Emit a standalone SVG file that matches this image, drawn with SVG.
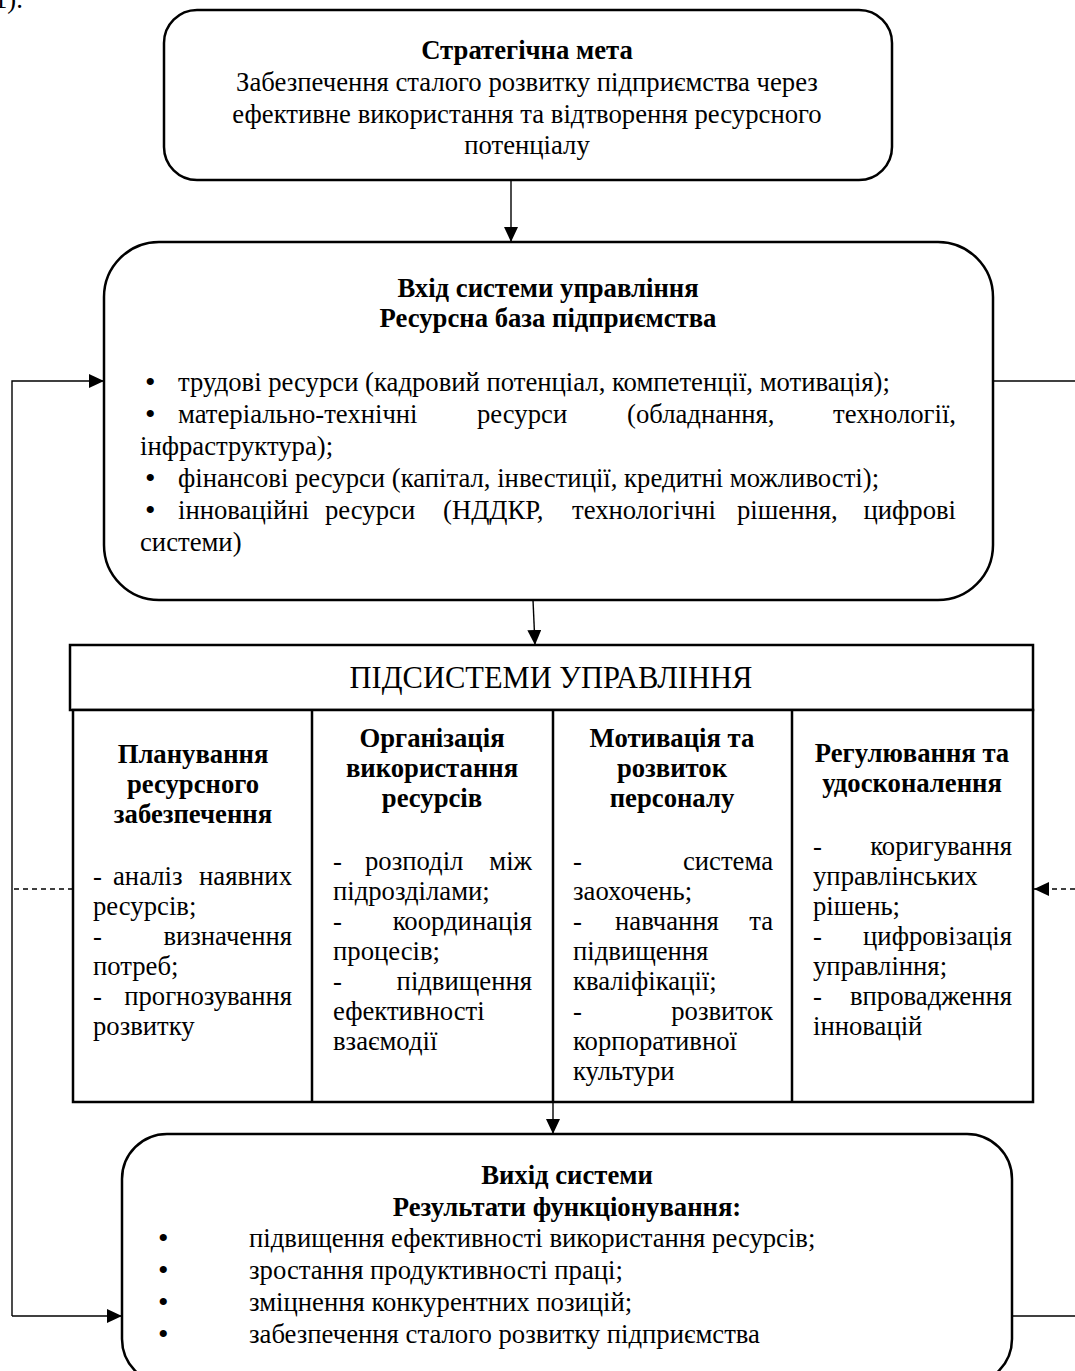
<svg xmlns="http://www.w3.org/2000/svg" width="1075" height="1371" viewBox="0 0 1075 1371">
<defs>
<style>
text{font-family:"Liberation Serif","Times New Roman",serif;font-size:26.7px;fill:#000}
.b{font-weight:bold}
.c{text-anchor:middle}
.e{text-anchor:end}
.bu{font-size:30px}
.box{fill:#fff;stroke:#000;stroke-width:2.5}
.tbl{fill:#fff;stroke:#000;stroke-width:2.5}
.ln{fill:none;stroke:#000;stroke-width:1.4}
.dash{fill:none;stroke:#000;stroke-width:1.4;stroke-dasharray:5 4}
</style>
<marker id="ah" viewBox="0 0 15 14" refX="15" refY="7" markerWidth="15" markerHeight="14" markerUnits="userSpaceOnUse" orient="auto">
<path d="M0,0 L15,7 L0,14 z" fill="#000"/>
</marker>
</defs>
<rect width="1075" height="1371" fill="#fff"/>
<text x="-6" y="8">1).</text>

<g id="connectors">
<path class="ln" d="M511,180 L511,242" marker-end="url(#ah)"/>
<path class="ln" d="M533,600 L535,645" marker-end="url(#ah)"/>
<path class="ln" d="M553,1102 L553,1134" marker-end="url(#ah)"/>
<path class="ln" d="M12,1316 L12,381 L104,381" marker-end="url(#ah)"/>
<path class="ln" d="M12,1316 L122,1316" marker-end="url(#ah)"/>
<path class="dash" d="M73,889 L12,889"/>
<path class="ln" d="M993,381 L1075,381"/>
<path class="dash" d="M1075,889 L1034,889" marker-end="url(#ah)"/>
<path class="ln" d="M1012,1316 L1075,1316"/>
</g>

<g id="goal">
<rect class="box" x="164" y="10" width="728" height="170" rx="33"/>
<text class="b c" x="527" y="59">Стратегічна мета</text>
<text class="c" x="527" y="91">Забезпечення сталого розвитку підприємства через</text>
<text class="c" x="527" y="123">ефективне використання та відтворення ресурсного</text>
<text class="c" x="527" y="154">потенціалу</text>
</g>

<g id="input">
<rect class="box" x="104" y="242" width="889" height="358" rx="55"/>
<text class="b c" x="548" y="297">Вхід системи управління</text>
<text class="b c" x="548" y="327">Ресурсна база підприємства</text>
<text class="bu" x="145" y="392">•</text><text x="178" y="391">трудові ресурси (кадровий потенціал, компетенції, мотивація);</text>
<text class="bu" x="145" y="424">•</text><text x="178" y="423">матеріально-технічні</text><text x="477" y="423">ресурси</text><text x="627" y="423">(обладнання,</text><text class="e" x="956" y="423">технології,</text>
<text x="140" y="455">інфраструктура);</text>
<text class="bu" x="145" y="488">•</text><text x="178" y="487">фінансові ресурси (капітал, інвестиції, кредитні можливості);</text>
<text class="bu" x="145" y="520">•</text><text x="178" y="519">інноваційні</text><text x="325" y="519">ресурси</text><text x="443" y="519">(НДДКР,</text><text x="572" y="519">технологічні</text><text x="737" y="519">рішення,</text><text class="e" x="956" y="519">цифрові</text>
<text x="140" y="551">системи)</text>
</g>

<g id="subsystems">
<rect class="tbl" x="70" y="645" width="963" height="65"/>
<text class="c" x="551" y="688" style="font-size:30.5px">ПІДСИСТЕМИ УПРАВЛІННЯ</text>
<rect class="tbl" x="73" y="710" width="960" height="392"/>
<path class="tbl" d="M312,710 V1102 M553,710 V1102 M792,710 V1102"/>
</g>

<g id="planning">
<text class="b c" x="193" y="763">Планування</text>
<text class="b c" x="193" y="793">ресурсного</text>
<text class="b c" x="193" y="823">забезпечення</text>
<text x="93" y="885">-</text><text x="113" y="885">аналіз</text><text class="e" x="292" y="885">наявних</text>
<text x="93" y="915">ресурсів;</text>
<text x="93" y="945">-</text><text class="e" x="292" y="945">визначення</text>
<text x="93" y="975">потреб;</text>
<text x="93" y="1005">-</text><text class="e" x="292" y="1005">прогнозування</text>
<text x="93" y="1035">розвитку</text>
</g>

<g id="organization">
<text class="b c" x="432" y="747">Організація</text>
<text class="b c" x="432" y="777">використання</text>
<text class="b c" x="432" y="807">ресурсів</text>
<text x="333" y="870">-</text><text x="365" y="870">розподіл</text><text class="e" x="532" y="870">між</text>
<text x="333" y="900">підрозділами;</text>
<text x="333" y="930">-</text><text class="e" x="532" y="930">координація</text>
<text x="333" y="960">процесів;</text>
<text x="333" y="990">-</text><text class="e" x="532" y="990">підвищення</text>
<text x="333" y="1020">ефективності</text>
<text x="333" y="1050">взаємодії</text>
</g>

<g id="motivation">
<text class="b c" x="672" y="747">Мотивація та</text>
<text class="b c" x="672" y="777">розвиток</text>
<text class="b c" x="672" y="807">персоналу</text>
<text x="573" y="870">-</text><text class="e" x="773" y="870">система</text>
<text x="573" y="900">заохочень;</text>
<text x="573" y="930">-</text><text x="615" y="930">навчання</text><text class="e" x="773" y="930">та</text>
<text x="573" y="960">підвищення</text>
<text x="573" y="990">кваліфікації;</text>
<text x="573" y="1020">-</text><text class="e" x="773" y="1020">розвиток</text>
<text x="573" y="1050">корпоративної</text>
<text x="573" y="1080">культури</text>
</g>

<g id="regulation">
<text class="b c" x="912" y="762">Регулювання та</text>
<text class="b c" x="912" y="792">удосконалення</text>
<text x="813" y="855">-</text><text class="e" x="1012" y="855">коригування</text>
<text x="813" y="885">управлінських</text>
<text x="813" y="915">рішень;</text>
<text x="813" y="945">-</text><text class="e" x="1012" y="945">цифровізація</text>
<text x="813" y="975">управління;</text>
<text x="813" y="1005">-</text><text class="e" x="1012" y="1005">впровадження</text>
<text x="813" y="1035">інновацій</text>
</g>

<g id="output">
<rect class="box" x="122" y="1134" width="890" height="250" rx="45"/>
<text class="b c" x="567" y="1184">Вихід системи</text>
<text class="b c" x="567" y="1216">Результати функціонування:</text>
<text class="bu" x="158" y="1248">•</text><text x="249" y="1247">підвищення ефективності використання ресурсів;</text>
<text class="bu" x="158" y="1280">•</text><text x="249" y="1279">зростання продуктивності праці;</text>
<text class="bu" x="158" y="1312">•</text><text x="249" y="1311">зміцнення конкурентних позицій;</text>
<text class="bu" x="158" y="1344">•</text><text x="249" y="1343">забезпечення сталого розвитку підприємства</text>
</g>
</svg>
